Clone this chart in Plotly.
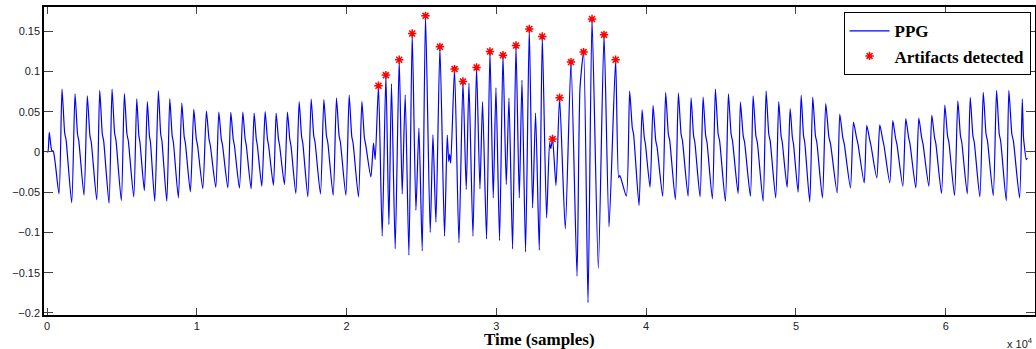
import plotly.graph_objects as go

# ---- data (x in samples, y in PPG amplitude) ----
start_x = [0, 60, 154, 314, 421]
start_y = [0.0, 0.0, 0.0243, 0.002, 0.001]

pre_trough_x = [802, 1650, 2472, 3320, 4142, 4963, 5792, 6500, 7194, 7996, 8771, 9572, 10401,
                11269, 12071, 12846, 13627, 14342, 15117, 15852, 16613, 17415, 18256, 19105,
                19953, 20795]
pre_trough_y = [-0.052, -0.0632, -0.0538, -0.0595, -0.0637, -0.0604, -0.0558, -0.048, -0.0612,
                -0.0612, -0.057, -0.0496, -0.0455, -0.0439, -0.0446, -0.045, -0.0459, -0.0426,
                -0.0414, -0.0405, -0.0517, -0.0558, -0.0521, -0.0538, -0.0538, -0.0558]
pre_peak_x = [1002, 1870, 2692, 3520, 4342, 5164, 5992, 6700, 7435, 8196, 8998, 9800, 10641,
              11470, 12271, 13073, 13828, 14562, 15297, 16052, 16834, 17635, 18484, 19325,
              20174, 21022]
pre_peak_y = [0.078, 0.0722, 0.0698, 0.0764, 0.078, 0.0726, 0.066, 0.0624, 0.076, 0.066, 0.0607,
              0.0528, 0.0508, 0.0496, 0.0492, 0.0496, 0.0483, 0.05, 0.0483, 0.0496, 0.0624,
              0.0657, 0.065, 0.0669, 0.0707, 0.0627]
pre_notch_y = [0.023, 0.022, 0.02, 0.022, 0.023, 0.022, 0.02, 0.02, 0.022, 0.02, 0.019, 0.016,
               0.016, 0.016, 0.016, 0.016, 0.016, 0.016, 0.016, 0.016, 0.019, 0.02, 0.02, 0.02,
               0.019, 0.0174]

art_x = [21623, 21797, 21910, 22131, 22378, 22625, 22826, 22999, 23246, 23514, 23714, 23914,
         24162, 24382, 24629, 24830, 25050, 25270, 25584, 25765, 25965, 26232, 26540, 26720,
         26820, 26887, 26954, 27208, 27502, 27769, 27989, 28170, 28437, 28677, 28904, 29078,
         29345, 29572, 29793, 29973, 30214, 30441, 30661, 30842, 31082, 31309, 31530, 31710,
         31950, 32198, 32418, 32618, 32866, 33066, 33353, 33554, 33634, 33754, 33981, 34222,
         34602, 34983, 35384, 35584, 35825, 36119, 36386, 36807, 37188, 37522, 37962, 38163,
         38243]
art_y = [-0.031, 0.011, -0.0095, 0.0822, -0.1046, 0.0954, -0.0901, 0.0847, -0.1203, 0.1144,
         -0.0521, 0.071, -0.1282, 0.147, -0.0724, 0.0297, -0.1228, 0.169, -0.1, 0.0214,
         -0.0872, 0.1305, -0.1046, 0.021, -0.012, -0.003, -0.014, 0.1029, -0.1128, 0.0875,
         -0.0467, 0.0855, -0.1046, 0.1049, -0.0459, 0.0624, -0.1079, 0.1247, -0.057, 0.0797,
         -0.11, 0.1202, -0.0405, 0.0669, -0.1203, 0.1322, -0.057, 0.0892, -0.124, 0.1528,
         -0.0694, 0.0483, -0.122, 0.1433, -0.0818, 0.0115, 0.004, 0.0161, -0.0418, 0.0673,
         -0.0955, 0.1116, -0.1542, 0.0793, 0.124, -0.1872, 0.1652, -0.145, 0.1454, -0.093,
         0.1144, -0.032, -0.029]

post_trough_x = [38677, 39526, 40260, 41102, 41950, 42799, 43600, 44422, 45290, 46139, 46960,
                 47809, 48650, 49412, 50147, 50922, 51770, 52752, 53640, 54556, 55397, 56266,
                 57134, 58002, 58871, 59719, 60588, 61436, 62278, 63173, 64041, 64930]
post_trough_y = [-0.055, -0.0666, -0.0439, -0.055, -0.0591, -0.055, -0.0558, -0.0583, -0.0612,
                 -0.0517, -0.055, -0.0612, -0.057, -0.0439, -0.05, -0.062, -0.057, -0.0508,
                 -0.0446, -0.0384, -0.0322, -0.0384, -0.0426, -0.0446, -0.0426, -0.0517,
                 -0.0542, -0.0521, -0.0558, -0.0542, -0.0604, -0.057]
post_peak_x = [38898, 39726, 40461, 41302, 42151, 42999, 43801, 44622, 45491, 46292, 47141,
               48009, 48851, 49612, 50347, 51122, 51990, 52926, 53841, 54729, 55598, 56466,
               57334, 58203, 59071, 59940, 60808, 61636, 62505, 63393, 64215, 65110]
post_peak_y = [0.0756, 0.0524, 0.0578, 0.0739, 0.0731, 0.0673, 0.0682, 0.0781, 0.0722, 0.062,
               0.0698, 0.0756, 0.0624, 0.0537, 0.0702, 0.0682, 0.0599, 0.0471, 0.0372, 0.033,
               0.0335, 0.0388, 0.0413, 0.0421, 0.0459, 0.0583, 0.0636, 0.0677, 0.0739, 0.0764,
               0.0764, 0.0657]
post_notch_y = [0.03, 0.018, 0.014, 0.022, 0.022, 0.02, 0.02, 0.022, 0.022, 0.02, 0.02, 0.022,
                0.02, 0.018, 0.02, 0.02, 0.018, 0.018, 0.018, 0.016, 0.016, 0.017, 0.018, 0.018,
                0.018, 0.02, 0.02, 0.02, 0.022, 0.022, 0.022, 0.02]

end_x = [65377, 65444]
end_y = [-0.0095, -0.0075]

star_x = [22131, 22625, 23514, 24382, 25270, 26232, 27208, 27769, 28677, 29572, 30441, 31309,
          32198, 33066, 33754, 34222, 34983, 35825, 36386, 37188, 37962]
star_y = [0.0822, 0.0954, 0.1144, 0.147, 0.169, 0.1305, 0.1029, 0.0875, 0.1049, 0.1247, 0.1202,
          0.1322, 0.1528, 0.1433, 0.0161, 0.0673, 0.1116, 0.124, 0.1652, 0.1454, 0.1144]

x_tick_vals = [0, 10000, 20000, 30000, 40000, 50000, 60000]
x_tick_text = ["0", "1", "2", "3", "4", "5", "6"]
y_tick_vals = [-0.2, -0.15, -0.1, -0.05, 0, 0.05, 0.1, 0.15]


def add_cycles(xs, ys, tx, ty, px, py, ny, end_next):
    for i in range(len(tx)):
        xs += [tx[i], px[i]]
        ys += [ty[i], py[i]]
        nxt = tx[i + 1] if i + 1 < len(tx) else end_next
        gap = nxt - px[i]
        xs += [px[i] + 0.28 * gap, px[i] + 0.42 * gap]
        ys += [ny[i], ny[i] - 0.008]


sig_x = list(start_x)
sig_y = list(start_y)
add_cycles(sig_x, sig_y, pre_trough_x, pre_trough_y, pre_peak_x, pre_peak_y, pre_notch_y, art_x[0])
sig_x += art_x
sig_y += art_y
add_cycles(sig_x, sig_y, post_trough_x, post_trough_y, post_peak_x, post_peak_y, post_notch_y, end_x[0])
sig_x += end_x
sig_y += end_y

fig = go.Figure()
fig.add_trace(go.Scatter(
    x=sig_x, y=sig_y, mode="lines", name="<b>PPG</b>",
    line=dict(color="#0000ff", width=1.2, shape="spline", smoothing=0.6),
))
fig.add_trace(go.Scatter(
    x=star_x, y=star_y, mode="markers", name="<b>Artifacts detected</b>",
    marker=dict(symbol="asterisk-open", size=7, color="#ff0000",
                line=dict(color="#ff0000", width=1.5)),
))

axis_common = dict(showline=True, linecolor="black", linewidth=1.5, mirror="ticks",
                   ticks="inside", tickcolor="#444444", showgrid=False, zeroline=False,
                   automargin=False,
                   tickfont=dict(family="Liberation Sans", size=11, color="#222222"))

fig.update_xaxes(range=[-200, 65960], tickvals=x_tick_vals, ticktext=x_tick_text,
                 ticklen=7, **axis_common)
fig.update_yaxes(range=[-0.2025, 0.18], tickvals=y_tick_vals, ticklen=9, **axis_common)

fig.update_layout(
    width=1036, height=349,
    margin=dict(l=44, r=1, t=7, b=34),
    paper_bgcolor="white", plot_bgcolor="white",
    showlegend=True,
    legend=dict(x=0.9955, xanchor="right", y=0.983, yanchor="top",
                bgcolor="white", bordercolor="black", borderwidth=1,
                font=dict(family="Liberation Serif", size=17, color="black"),
                tracegroupgap=0, itemwidth=40),
    annotations=[
        dict(text="<b>Time (samples)</b>", xref="paper", yref="paper", x=0.5, y=-0.08,
             xanchor="center", yanchor="middle", showarrow=False,
             font=dict(family="Liberation Serif", size=17, color="black")),
        dict(text="x 10<sup>4</sup>", xref="paper", yref="paper", x=1.0, y=-0.09,
             xanchor="right", yanchor="middle", showarrow=False,
             font=dict(family="Liberation Sans", size=11, color="#222222")),
    ],
)

fig.write_html("out.html", config={"displayModeBar": False},
               post_script="document.body.style.margin='0';document.body.style.overflow='hidden';")
